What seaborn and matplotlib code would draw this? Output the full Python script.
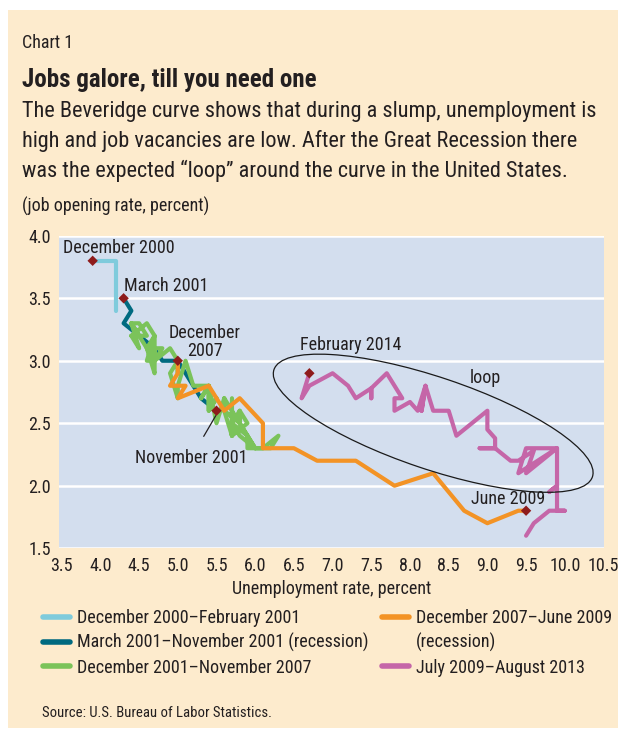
import matplotlib.pyplot as plt
import matplotlib.transforms as mtransforms
from matplotlib.lines import Line2D
from matplotlib.patches import Ellipse, Rectangle
import pandas as pd
import seaborn as sns

# unemployment rate (x) and job opening rate (y), monthly
dec00_feb01_u = [3.9, 4.2, 4.2]
dec00_feb01_j = [3.8, 3.8, 3.4]

mar01_nov01_u = [4.3, 4.4, 4.3, 4.5, 4.7, 4.8, 5.0, 5.3, 5.5]
mar01_nov01_j = [3.5, 3.4, 3.3, 3.2, 3.1, 3.0, 3.0, 2.7, 2.6]

dec01_nov07_u = [
    5.7,
    5.7, 5.7, 5.7, 5.9, 5.8, 5.8, 5.8, 5.7, 5.7, 5.7, 5.9, 6.0,
    5.8, 5.9, 5.9, 6.0, 6.1, 6.3, 6.2, 6.1, 6.1, 6.0, 5.8, 5.7,
    5.7, 5.6, 5.8, 5.6, 5.6, 5.6, 5.5, 5.4, 5.4, 5.5, 5.4, 5.4,
    5.3, 5.4, 5.2, 5.2, 5.1, 5.0, 5.0, 4.9, 5.0, 5.0, 5.0, 4.9,
    4.7, 4.8, 4.7, 4.7, 4.6, 4.6, 4.7, 4.7, 4.5, 4.4, 4.5, 4.4,
    4.6, 4.5, 4.4, 4.5, 4.4, 4.6, 4.7, 4.6, 4.7, 4.7, 4.7,
]
dec01_nov07_j = [
    2.7,
    2.5, 2.6, 2.4, 2.5, 2.6, 2.5, 2.6, 2.5, 2.4, 2.5, 2.4, 2.3,
    2.5, 2.4, 2.3, 2.3, 2.3, 2.4, 2.3, 2.3, 2.3, 2.3, 2.4, 2.5,
    2.4, 2.6, 2.5, 2.7, 2.6, 2.7, 2.5, 2.8, 2.6, 2.7, 2.6, 2.8,
    2.7, 2.8, 2.8, 2.8, 3.0, 2.8, 2.7, 2.9, 3.0, 2.9, 3.0, 3.1,
    3.0, 3.1, 3.1, 3.2, 3.1, 3.1, 2.9, 3.0, 3.2, 3.3, 3.2, 3.2,
    3.2, 3.3, 3.3, 3.1, 3.2, 3.3, 3.2, 3.0, 3.0, 3.1, 3.0,
]

dec07_jun09_u = [5.0, 5.0, 4.9, 5.1, 5.0, 5.4, 5.6, 5.8, 6.1, 6.1, 6.5, 6.8,
                 7.3, 7.8, 8.3, 8.7, 9.0, 9.4, 9.5]
dec07_jun09_j = [3.0, 2.9, 2.8, 2.8, 2.7, 2.8, 2.6, 2.7, 2.5, 2.3, 2.3, 2.2,
                 2.2, 2.0, 2.1, 1.8, 1.7, 1.8, 1.8]

jul09_feb14_u = [
    9.5, 9.6, 9.8, 10.0, 9.9, 9.9, 9.8, 9.9, 9.9, 9.5, 9.4, 9.9, 9.5, 9.6,
    9.4, 9.3, 9.1, 8.9, 9.1, 9.1, 9.0, 9.0, 8.6, 8.5, 8.3, 8.2, 8.15, 8.2,
    8.1, 8.0, 7.8, 7.8, 7.9, 7.7, 7.5, 7.5, 7.5, 7.3, 7.2, 7.0, 6.7, 6.6, 6.7,
]
jul09_feb14_j = [
    1.6, 1.7, 1.8, 1.8, 1.8, 2.0, 1.95, 2.0, 2.3, 2.3, 2.1, 2.3, 2.1, 2.28,
    2.2, 2.2, 2.3, 2.3, 2.3, 2.38, 2.45, 2.6, 2.4, 2.6, 2.6, 2.8, 2.6, 2.8,
    2.6, 2.67, 2.6, 2.7, 2.7, 2.9, 2.78, 2.7, 2.78, 2.7, 2.8, 2.9, 2.8, 2.7, 2.9,
]

periods = [
    "December 2000–February 2001",
    "March 2001–November 2001 (recession)",
    "December 2001–November 2007",
    "December 2007–June 2009 (recession)",
    "July 2009–August 2013",
]
colors = ["#7FCBDC", "#006A80", "#7BC35A", "#F39325", "#C566A8"]

# labelled months
mark_u = [3.9, 4.3, 5.0, 5.5, 6.7, 9.5]
mark_j = [3.8, 3.5, 3.0, 2.6, 2.9, 1.8]

CREAM = "#FDEBCD"
PLOT_BG = "#D3DEEE"
TEXT = "#231F20"

sns.set_style("white")
plt.rcParams["font.family"] = ["Roboto Condensed", "DejaVu Sans"]
plt.rcParams["text.color"] = TEXT

series = [
    (dec00_feb01_u, dec00_feb01_j),
    (mar01_nov01_u, mar01_nov01_j),
    (dec01_nov07_u, dec01_nov07_j),
    (dec07_jun09_u, dec07_jun09_j),
    (jul09_feb14_u, jul09_feb14_j),
]
df = pd.concat(
    [pd.DataFrame({"u": u, "j": j, "period": p}) for p, (u, j) in zip(periods, series)],
    ignore_index=True,
)

W, H = 621, 730
fig = plt.figure(figsize=(W / 100, H / 100), dpi=100, facecolor="white")
fig.patches.append(
    Rectangle((8 / W, 2 / H), 610 / W, 718 / H, transform=fig.transFigure,
              facecolor=CREAM, edgecolor="none", zorder=-10)
)

ax = fig.add_axes([59 / W, 1 - 548.2 / H, 545 / W, 312.4 / H])
ax.set_facecolor(PLOT_BG)

sns.lineplot(
    data=df, x="u", y="j", hue="period", hue_order=periods,
    palette=colors, estimator=None, sort=False, linewidth=3,
    legend=False, ax=ax, zorder=3,
)
sns.scatterplot(x=mark_u, y=mark_j, marker="D", color="#8E1B1B", s=28,
                edgecolor="none", zorder=6, ax=ax)

ax.set_xlim(3.465, 10.507)
ax.set_ylim(1.5, 4.0)
ax.set_xticks([3.5 + 0.5 * i for i in range(15)])
ax.set_xticklabels([f"{3.5 + 0.5 * i:.1f}" for i in range(15)])
ax.set_yticks([1.5, 2.0, 2.5, 3.0, 3.5, 4.0])
ax.set_yticklabels(["1.5", "2.0", "2.5", "3.0", "3.5", "4.0"])
ax.grid(axis="y", color="white", linewidth=1.8)
ax.set_axisbelow(True)
for s in ax.spines.values():
    s.set_visible(False)
ax.tick_params(axis="x", direction="in", length=6, width=1, color="#231F20",
               pad=6, labelsize=13, labelcolor=TEXT)
ax.tick_params(axis="y", length=0, pad=6, labelsize=13, labelcolor=TEXT)
ax.set_xlabel("Unemployment rate, percent", fontsize=13, labelpad=4, color=TEXT)
ax.set_ylabel("")

# annotations
fs = 13
ax.text(3.52, 3.90, "December 2000", fontsize=fs, ha="left", va="center")
ax.text(4.31, 3.60, "March 2001", fontsize=fs, ha="left", va="center")
ax.text(5.35, 3.15, "December\n2007", fontsize=fs, ha="center", va="center",
        linespacing=1.0)
ax.annotate("November 2001", xy=(5.49, 2.56), xytext=(5.17, 2.22),
            fontsize=fs, ha="center", va="center",
            arrowprops=dict(arrowstyle="-", color=TEXT, lw=0.9,
                            shrinkA=8, shrinkB=0))
ax.text(7.24, 3.13, "February 2014", fontsize=fs, ha="center", va="center")
ax.text(8.98, 2.86, "loop", fontsize=fs, ha="center", va="center")
ax.text(9.27, 1.89, "June 2009", fontsize=fs, ha="center", va="center")

loop = Ellipse((0, 0), width=2 * 168, height=2 * 46, angle=-18.6,
               facecolor="none", edgecolor="#1A1A1A", linewidth=0.9,
               transform=mtransforms.ScaledTranslation(8.3, 2.5, ax.transData),
               zorder=4)
ax.add_patch(loop)

# headings
fig.text(22 / W, 1 - 48 / H, "Chart 1", fontsize=13, va="baseline")
fig.text(22 / W, 1 - 87 / H, "Jobs galore, till you need one", fontsize=18,
         fontweight="bold", va="baseline")
sub = [
    "The Beveridge curve shows that during a slump, unemployment is",
    "high and job vacancies are low. After the Great Recession there",
    "was the expected \u201cloop\u201d around the curve in the United States.",
]
for i, line in enumerate(sub):
    fig.text(22 / W, 1 - (117 + 30 * i) / H, line, fontsize=16, va="baseline")
fig.text(22 / W, 1 - 212 / H, "(job opening rate, percent)", fontsize=13,
         va="baseline")
fig.text(42 / W, 1 - 717 / H, "Source: U.S. Bureau of Labor Statistics.",
         fontsize=10.6, va="baseline")

# legend in two blocks
def handle(c, alpha=1.0):
    return Line2D([], [], color=c, lw=4, alpha=alpha, solid_capstyle="round")

leg_kw = dict(frameon=False, fontsize=13, handlelength=1.5, handletextpad=0.38,
              labelspacing=0.35, borderpad=0, borderaxespad=0, loc="upper left",
              labelcolor=TEXT)
fig.legend([handle(c) for c in colors[:3]], periods[:3],
           bbox_to_anchor=(43 / W, 1 - 609 / H), **leg_kw)
fig.legend([handle(colors[3]), handle(colors[3], 0.0), handle(colors[4])],
           ["December 2007–June 2009", "(recession)", periods[4]],
           bbox_to_anchor=(382 / W, 1 - 609 / H), **leg_kw)

fig.savefig("out.png", dpi=100, facecolor="white")
